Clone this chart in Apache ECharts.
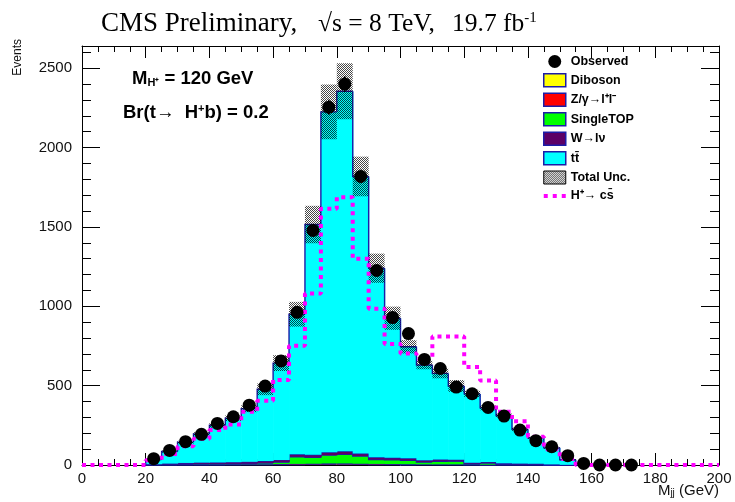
<!DOCTYPE html>
<html><head><meta charset="utf-8">
<script src="https://cdn.jsdelivr.net/npm/echarts@6/dist/echarts.min.js"></script>
<style>html,body{margin:0;padding:0;background:#fff}#c{width:735px;height:502px}</style>
</head><body><div id="c"></div><script>
// bin edges (GeV)
const binEdges = [0,5,10,15,20,25,30,35,40,45,50,55,60,65,70,75,80,85,90,95,100,105,110,115,120,125,130,135,140,145,150,155,160,165,170,175,180,185,190,195,200];
const observed = [null,null,null,null,40,92,147,193,262,304,377,497,656,962,1478,2254,2400,1818,1226,929,828,665,608,491,449,363,308,220,153,115,59,10,0,0,0,null,null,null,null,null];
const diboson  = [0,0,0,0,0,1,1,1,1,2,2,2,3,3,4,5,5,4,3,3,2,2,2,2,1,1,1,1,1,0,0,0,0,0,0,0,0,0,0,0];
const zll      = [0,0,0,0,1,1,2,2,2,3,3,3,3,4,4,5,5,4,4,3,3,2,2,2,2,1,1,1,1,0,0,0,0,0,0,0,0,0,0,0];
const singleTop= [0,0,0,0,1,2,2,3,3,3,4,8,12,45,40,52,58,48,28,27,25,15,20,20,3,10,3,2,2,1,0,0,0,0,0,0,0,0,0,0];
const wjets    = [0,0,0,0,3,5,8,9,10,10,11,12,14,16,17,18,18,16,14,13,12,11,10,9,8,7,6,5,4,3,1,0,0,0,0,0,0,0,0,0];
const ttbar    = [0,0,0,0,30,76,130,180,234,277,335,452,610,882,1450,2145,2269,1746,1191,879,703,600,543,465,434,341,301,216,162,104,32,5,0,0,0,0,0,0,0,0];
const totalUnc = [0,0,0,0,4,7,10,12,15,18,22,37,50,78,118,172,176,125,92,73,42,27,31,37,20,15,12,10,8,6,3,1,0,0,0,0,0,0,0,0];
const signal   = [0,0,0,0,30,70,118,165,220,255,335,405,535,752,1080,1614,1687,1300,985,763,702,668,810,810,618,533,335,275,178,100,38,0,0,0,0,0,0,0,0,0];

const FONT = "'Liberation Sans', Arial, Helvetica, sans-serif";
const SERIF = "'Liberation Serif', 'Times New Roman', serif";

function makeHatch() {
  const c = document.createElement('canvas'); c.width = 4; c.height = 4;
  const ctx = c.getContext('2d');
  ctx.fillStyle = 'rgba(0,0,0,0.72)';
  for (let y = 0; y < 4; y++) for (let x = 0; x < 4; x++) if ((x + y) % 2 === 0) ctx.fillRect(x, y, 1, 1);
  return c;
}
const hatch = { image: makeHatch(), repeat: 'repeat' };

const comps = [
  { name: 'Diboson', vals: diboson, color: '#ffff00' },
  { name: 'Z/γ→l⁺l⁻', vals: zll, color: '#ff0000' },
  { name: 'SingleTOP', vals: singleTop, color: '#00ff00' },
  { name: 'W→lν', vals: wjets, color: '#5c0066' },
  { name: 'tt̄', vals: ttbar, color: '#00ffff' }
];
const nb = observed.length;
const OUTLINE = '#1c1ca8';

function renderStack(params, api) {
  const lo = api.value(0), hi = api.value(1), base = api.value(2), top = api.value(3), prevTop = api.value(4);
  const p0 = api.coord([lo, top]);
  const p1 = api.coord([hi, base]);
  const children = [];
  if (top > base) {
    children.push({ type: 'rect', shape: { x: p0[0], y: p0[1], width: p1[0] - p0[0] + 0.6, height: p1[1] - p0[1] }, style: { fill: api.visual('color') } });
  }
  if (top > 0 || prevTop > 0) {
    const q = api.coord([lo, prevTop]);
    children.push({ type: 'polyline', shape: { points: [[q[0], q[1]], [p0[0], p0[1]], [p1[0], p0[1]]] }, style: { stroke: OUTLINE, lineWidth: 1.4, fill: null } });
  }
  return { type: 'group', children };
}

const cum = new Array(nb).fill(0);
const series = [];
comps.forEach((c, k) => {
  const data = [];
  for (let i = 0; i < nb; i++) {
    const base = cum[i], top = base + c.vals[i];
    const prevTop = i > 0 ? cum[i - 1] + c.vals[i - 1] : 0;
    data.push([binEdges[i], binEdges[i + 1], base, top, prevTop]);
  }
  for (let i = 0; i < nb; i++) cum[i] += c.vals[i];
  series.push({ type: 'custom', name: c.name, data, renderItem: renderStack, encode: { x: [0, 1], y: [2, 3] }, itemStyle: { color: c.color }, z: 2 + k * 0.01, silent: true, animation: false });
});

// total uncertainty band
const bandData = [];
for (let i = 0; i < nb; i++) if (totalUnc[i] > 0) bandData.push([binEdges[i], binEdges[i + 1], cum[i] - totalUnc[i], cum[i] + totalUnc[i]]);
series.push({
  type: 'custom', name: 'Total Unc.', data: bandData, z: 3, silent: true, animation: false,
  itemStyle: { color: hatch },
  encode: { x: [0, 1], y: [2, 3] },
  renderItem: (params, api) => {
    const a = api.coord([api.value(0), api.value(3)]);
    const b = api.coord([api.value(1), api.value(2)]);
    return { type: 'rect', shape: { x: a[0], y: a[1], width: b[0] - a[0], height: b[1] - a[1] }, style: { fill: hatch } };
  }
});

// signal step line
const sigData = signal.map((v, i) => [binEdges[i], v]);
sigData.push([binEdges[nb], 0]);
series.push({
  type: 'line', name: 'H⁺→ cs̄', data: sigData, step: 'end', symbol: 'none', showSymbol: false, z: 4, silent: true, animation: false,
  lineStyle: { color: '#ff00ff', width: 4, type: [4, 4.5], cap: 'butt' },
  itemStyle: { color: '#ff00ff' }
});

// observed
const obsData = [], errData = [];
for (let i = 0; i < nb; i++) {
  if (observed[i] === null) continue;
  const c = (binEdges[i] + binEdges[i + 1]) / 2;
  obsData.push([c, observed[i]]);
  if (observed[i] > 0) errData.push([c, observed[i] - Math.sqrt(observed[i]), observed[i] + Math.sqrt(observed[i])]);
}
series.push({
  type: 'custom', name: 'obsErr', data: errData, z: 5, silent: true, animation: false,
  encode: { x: 0, y: [1, 2] },
  renderItem: (params, api) => {
    const a = api.coord([api.value(0), api.value(1)]);
    const b = api.coord([api.value(0), api.value(2)]);
    return { type: 'line', shape: { x1: a[0], y1: a[1], x2: b[0], y2: b[1] }, style: { stroke: '#000', lineWidth: 1.5 } };
  }
});
series.push({ type: 'scatter', name: 'Observed', data: obsData, symbol: 'circle', symbolSize: 13, itemStyle: { color: '#000', opacity: 1 }, z: 6, silent: true, animation: false });

const axisCommonX = {
  type: 'value', min: 0, max: 200, interval: 20,
  axisLine: { show: true, onZero: false, lineStyle: { color: '#000', width: 1 } },
  axisTick: { show: true, inside: true, length: 12, lineStyle: { color: '#000', width: 1 } },
  minorTick: { show: true, splitNumber: 4, length: 6, lineStyle: { color: '#000', width: 1 } },
  splitLine: { show: false }
};
const axisCommonY = {
  type: 'value', min: 0, max: 2640, interval: 500,
  axisLine: { show: true, onZero: false, lineStyle: { color: '#000', width: 1 } },
  axisTick: { show: true, inside: true, length: 18, lineStyle: { color: '#000', width: 1 } },
  minorTick: { show: true, splitNumber: 5, length: 9, lineStyle: { color: '#000', width: 1 } },
  splitLine: { show: false }
};

const option = {
  backgroundColor: '#fff',
  animation: false,
  grid: { left: 82, right: 16, top: 46, bottom: 37, containLabel: false },
  xAxis: [
    Object.assign({}, axisCommonX, { position: 'bottom', axisLabel: { show: true, margin: 6, fontSize: 15, fontFamily: FONT, color: '#111', formatter: v => String(v) } }),
    Object.assign({}, axisCommonX, { position: 'top', axisLabel: { show: false } })
  ],
  yAxis: [
    Object.assign({}, axisCommonY, { position: 'left', axisLabel: { show: true, margin: 10, fontSize: 15, fontFamily: FONT, color: '#111', showMaxLabel: false, formatter: v => String(v) } }),
    Object.assign({}, axisCommonY, { position: 'right', axisLabel: { show: false } })
  ],
  legend: {
    orient: 'vertical', left: 543, top: 55, padding: 0, itemWidth: 22, itemHeight: 13, itemGap: 5, selectedMode: false,
    textStyle: { fontFamily: FONT, fontWeight: 'bold', fontSize: 12.5, lineHeight: 13, color: '#000' },
    data: [
      { name: 'Observed', icon: 'circle', itemStyle: { color: '#000', opacity: 1 } },
      { name: 'Diboson', icon: 'rect', itemStyle: { color: '#ffff00', borderColor: OUTLINE, borderWidth: 1.5 } },
      { name: 'Z/γ→l⁺l⁻', icon: 'rect', itemStyle: { color: '#ff0000', borderColor: OUTLINE, borderWidth: 1.5 } },
      { name: 'SingleTOP', icon: 'rect', itemStyle: { color: '#00ff00', borderColor: OUTLINE, borderWidth: 1.5 } },
      { name: 'W→lν', icon: 'rect', itemStyle: { color: '#5c0066', borderColor: OUTLINE, borderWidth: 1.5 } },
      { name: 'tt̄', icon: 'rect', itemStyle: { color: '#00ffff', borderColor: OUTLINE, borderWidth: 1.5 } },
      { name: 'Total Unc.', icon: 'rect', itemStyle: { color: hatch, borderColor: '#000', borderWidth: 1 } },
      { name: 'H⁺→ cs̄', icon: 'path://M0,0h4v4h-4zM9,0h4v4h-4zM18,0h4v4h-4z', itemStyle: { color: '#ff00ff', borderWidth: 0 } }
    ]
  },
  graphic: [
    { type: 'text', left: 101, top: 10, style: { text: 'CMS Preliminary,', font: '27px ' + SERIF, fill: '#000' } },
    { type: 'text', left: 318, top: 11, style: { text: '√s = 8 TeV,', font: '25.5px ' + SERIF, fill: '#000' } },
    { type: 'text', left: 452, top: 11, style: { text: '{a|19.7 fb}{b|-1}', rich: { a: { font: '25.5px ' + SERIF, fill: '#000' }, b: { font: '15px ' + SERIF, fill: '#000', verticalAlign: 'top' } } } },
    { type: 'text', left: 132, top: 69, style: { text: '{a|M}{b|H⁺}{a| = 120 GeV}', rich: { a: { font: 'bold 18.5px ' + FONT, fill: '#000', verticalAlign: 'top' }, b: { font: 'bold 11px ' + FONT, fill: '#000', verticalAlign: 'bottom' } } } },
    { type: 'text', left: 123, top: 103, style: { text: '{a|Br(t→  H}{b|+}{a|b) = 0.2}', rich: { a: { font: 'bold 18.5px ' + FONT, fill: '#000', verticalAlign: 'bottom' }, b: { font: 'bold 11px ' + FONT, fill: '#000', verticalAlign: 'top' } } } },
    { type: 'text', right: 16, top: 483, style: { text: '{a|M}{b|jj}{a| (GeV)}', rich: { a: { font: '15px ' + FONT, fill: '#111', verticalAlign: 'top' }, b: { font: '10px ' + FONT, fill: '#111', verticalAlign: 'bottom' } } } },
    { type: 'text', x: 18, y: 39, rotation: Math.PI / 2, style: { text: 'Events', font: '12px ' + FONT, fill: '#111', textAlign: 'right', textVerticalAlign: 'middle' } }
  ],
  series
};
const chart = echarts.init(document.getElementById('c'), null, { renderer: 'canvas' });
chart.setOption(option);
</script></body></html>
